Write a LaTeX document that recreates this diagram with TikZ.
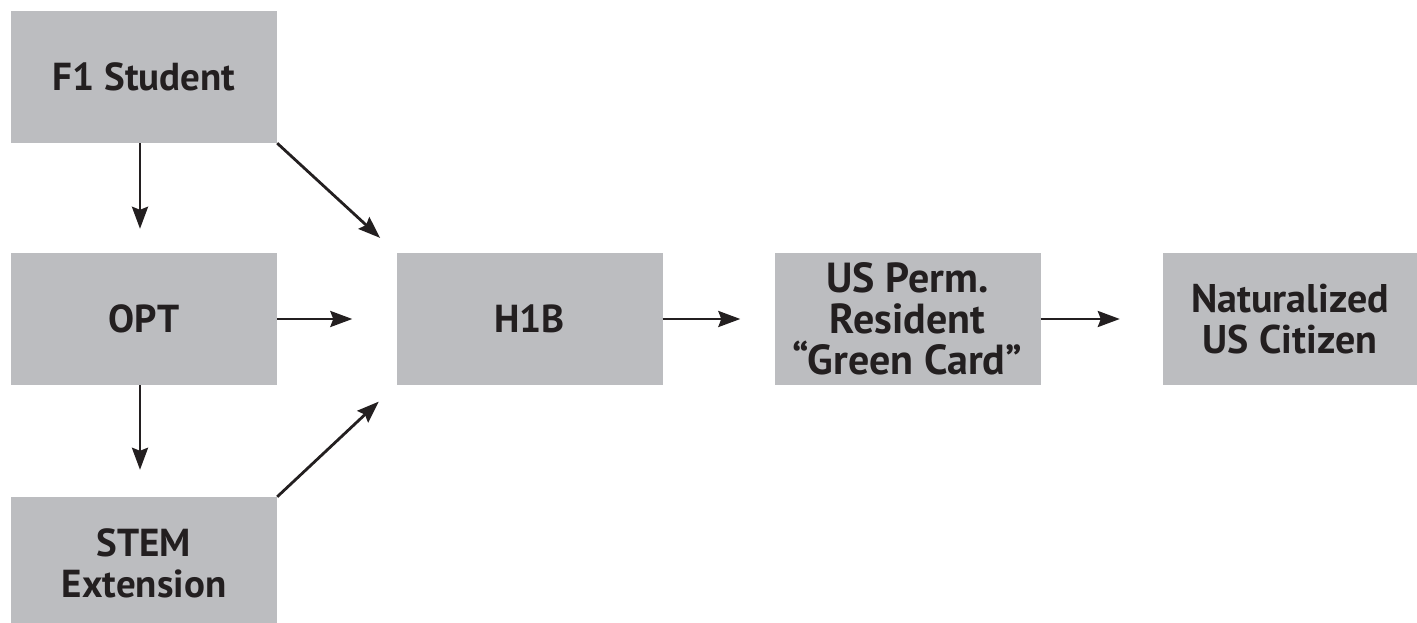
\documentclass[tikz,border=0pt]{standalone}
\usepackage{fontspec}
\setmainfont{PT Sans}
\usetikzlibrary{arrows.meta}
\definecolor{boxgray}{RGB}{188,189,192}
\definecolor{inkdark}{RGB}{35,31,32}

\begin{document}
\begin{tikzpicture}[x=1pt,y=1pt,
		stage/.style={fill=boxgray,minimum width=266pt,minimum height=132pt,
			inner sep=0pt,align=center,text=inkdark,
			font=\fontsize{39}{41}\selectfont\bfseries},
		flow/.style={draw=inkdark,line width=2.8pt,
			-{Stealth[length=22pt,width=16pt,inset=3pt]}}]
		\clip (0,0) rectangle (1417,622);
		\node[stage] (f1) at (144,545) {F1 Student};
		\node[stage] (opt) at (144,303) {OPT};
		\node[stage] (stem) at (144,59) {STEM\\Extension};
		\node[stage] (h1b) at (529.5,303) {H1B};
		\node[stage,font=\fontsize{42}{41}\selectfont\bfseries] (perm) at (907.5,303) {US Perm.\\Resident\\``Green Card''};
		\node[stage,minimum width=254pt,font=\fontsize{40}{41}\selectfont\bfseries] (citizen) at (1290,303) {Naturalized\\US Citizen};
		% arrows
		\draw[flow,shorten >=24pt] ([xshift=-4pt]f1.south) -- ([xshift=-4pt]opt.north);
		\draw[flow,shorten >=27pt] ([xshift=-4pt]opt.south) -- ([xshift=-4pt]stem.north);
		\draw[flow,shorten >=22pt] (f1.south east) -- (h1b.north west);
		\draw[flow,shorten >=44pt] (opt.east) -- (h1b.west);
		\draw[flow,shorten >=24pt] (stem.north east) -- (h1b.south west);
		\draw[flow,shorten >=34pt] (h1b.east) -- (perm.west);
		\draw[flow,shorten >=43pt] (perm.east) -- (citizen.west);
	\end{tikzpicture}
\end{document}
